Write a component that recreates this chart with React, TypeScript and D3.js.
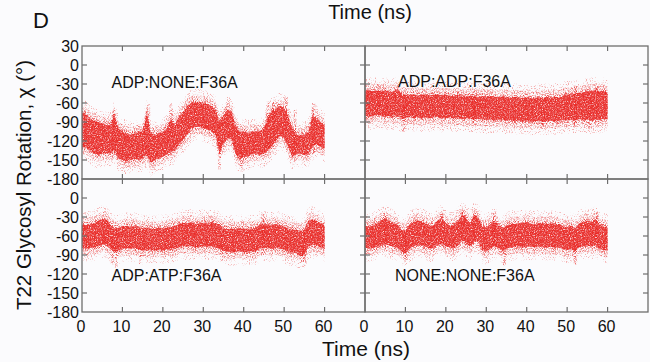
import React from "react";
import * as d3 from "d3";

// ---- data ----
const TIME = d3.range(0, 61); // ns, 1 ns sampling
const X_TICKS = [0, 10, 20, 30, 40, 50, 60];
const Y_TICKS = [-180, -150, -120, -90, -60, -30, 0, 30];

// ADP:NONE:F36A  (dense band low / high edge, degrees)
const ADP_NONE_LO = [-130,-130,-135,-140,-142,-140,-138,-140,-135,-148,-150,-152,-150,-148,-150,-148,-140,-155,-150,-148,-145,-140,-138,-135,-125,-118,-110,-100,-98,-98,-100,-102,-105,-110,-140,-125,-115,-118,-140,-150,-145,-145,-140,-140,-142,-140,-135,-128,-120,-112,-115,-130,-145,-140,-140,-142,-140,-130,-125,-130,-132];
const ADP_NONE_HI = [-75,-78,-85,-88,-90,-92,-95,-95,-78,-100,-105,-108,-110,-108,-105,-105,-75,-108,-110,-108,-105,-100,-85,-95,-80,-75,-65,-60,-58,-58,-60,-62,-65,-70,-88,-80,-70,-75,-95,-105,-105,-108,-105,-105,-105,-100,-82,-72,-70,-64,-68,-80,-100,-110,-110,-110,-105,-80,-85,-90,-95];
const ADP_NONE_SPIKES = [[7.8,-145,-72],[16.5,-150,-62],[22,-125,-60],[34,-165,-95],[39.5,-168,-110],[46,-130,-58],[47.5,-120,-55],[50.5,-105,-50],[52.7,-140,-70],[57.3,-140,-60]];

// ADP:ADP:F36A
const ADP_ADP_LO = [-80,-82,-80,-78,-80,-82,-80,-82,-80,-85,-84,-82,-84,-83,-85,-82,-84,-83,-82,-85,-84,-83,-85,-84,-86,-84,-85,-86,-85,-86,-87,-86,-88,-86,-87,-88,-87,-89,-88,-90,-88,-90,-89,-88,-90,-89,-88,-90,-88,-87,-88,-86,-88,-85,-88,-86,-88,-86,-87,-85,-86];
const ADP_ADP_HI = [-42,-40,-42,-40,-42,-40,-43,-42,-38,-45,-47,-48,-46,-48,-47,-46,-48,-47,-46,-48,-47,-48,-49,-47,-48,-50,-48,-49,-50,-49,-50,-49,-50,-51,-49,-50,-52,-50,-51,-52,-50,-52,-53,-50,-52,-50,-52,-50,-51,-48,-46,-47,-45,-44,-43,-42,-41,-40,-42,-41,-44];
const ADP_ADP_SPIKES = [[3.5,-85,-30],[9.5,-105,-60],[27,-95,-40],[44,-100,-60],[52,-95,-32],[55.5,-102,-35],[57.5,-95,-32]];

// ADP:ATP:F36A
const ADP_ATP_LO = [-78,-80,-79,-78,-76,-74,-73,-80,-85,-84,-80,-79,-80,-79,-82,-82,-83,-82,-83,-82,-83,-81,-82,-80,-78,-76,-77,-76,-78,-77,-76,-77,-76,-78,-80,-84,-85,-86,-85,-84,-86,-85,-84,-85,-80,-78,-79,-80,-78,-80,-82,-85,-86,-87,-92,-90,-76,-74,-75,-78,-80];
const ADP_ATP_HI = [-42,-43,-41,-40,-36,-33,-34,-42,-48,-47,-45,-44,-46,-44,-46,-48,-47,-48,-49,-47,-48,-47,-46,-44,-41,-39,-40,-38,-41,-40,-39,-40,-38,-40,-42,-48,-49,-48,-49,-47,-48,-49,-48,-47,-42,-40,-42,-43,-41,-43,-45,-48,-50,-50,-52,-50,-36,-34,-36,-40,-43];
const ADP_ATP_SPIKES = [[7.5,-105,-60],[8.5,-110,-60],[14.5,-105,-60],[34.5,-100,-55],[44.8,-90,-25],[54.5,-100,-60],[55,-102,-65]];

// NONE:NONE:F36A
const NONE_NONE_LO = [-78,-80,-79,-77,-74,-73,-75,-77,-78,-84,-88,-80,-76,-74,-75,-77,-80,-79,-74,-72,-76,-78,-79,-75,-68,-72,-77,-68,-70,-82,-84,-80,-76,-79,-84,-80,-78,-77,-76,-78,-76,-77,-78,-76,-77,-78,-77,-79,-78,-81,-82,-80,-84,-78,-76,-75,-77,-74,-80,-82,-83];
const NONE_NONE_HI = [-44,-45,-44,-40,-35,-32,-36,-40,-42,-50,-53,-42,-38,-35,-37,-40,-44,-43,-35,-32,-40,-44,-42,-36,-26,-32,-40,-27,-30,-45,-46,-42,-36,-42,-48,-44,-40,-41,-40,-40,-38,-40,-42,-39,-40,-41,-40,-42,-41,-45,-46,-44,-48,-40,-37,-36,-38,-33,-42,-45,-46];
const NONE_NONE_SPIKES = [[5,-80,-25],[10,-98,-55],[19,-75,-25],[24,-70,-22],[27,-70,-25],[32,-80,-22],[34.5,-108,-60],[52,-105,-60],[57.5,-80,-22]];

const LABELS = ["ADP:NONE:F36A", "ADP:ADP:F36A", "ADP:ATP:F36A", "NONE:NONE:F36A"];

// ---- layout / style ----
const W = 650, H = 362;
const RED = "#e8201f";
const AXIS = "#6e6e6e";
const FONT = "'Liberation Sans', Arial, Helvetica, sans-serif";
const PAD = 14;
const TICK = 5;

const xL = d3.scaleLinear().domain([0, 70]).range([82, 365]);
const xR = d3.scaleLinear().domain([0, 70]).range([365, 648]);
const yT = d3.scaleLinear().domain([-180, 30]).range([179, 46]);
const yB = d3.scaleLinear().domain([-180, 30]).range([312, 179]);

type Panel = {
  id: string; x: d3.ScaleLinear<number, number>; y: d3.ScaleLinear<number, number>;
  lo: number[]; hi: number[]; spikes: number[][]; label: string;
  lx: number; ly: number; left: boolean; bottom: boolean;
};

const PANELS: Panel[] = [
  { id: "p0", x: xL, y: yT, lo: ADP_NONE_LO, hi: ADP_NONE_HI, spikes: ADP_NONE_SPIKES, label: LABELS[0], lx: 111.5, ly: 87.5, left: true, bottom: false },
  { id: "p1", x: xR, y: yT, lo: ADP_ADP_LO, hi: ADP_ADP_HI, spikes: ADP_ADP_SPIKES, label: LABELS[1], lx: 398, ly: 87, left: false, bottom: false },
  { id: "p2", x: xL, y: yB, lo: ADP_ATP_LO, hi: ADP_ATP_HI, spikes: ADP_ATP_SPIKES, label: LABELS[2], lx: 111.5, ly: 281, left: true, bottom: true },
  { id: "p3", x: xR, y: yB, lo: NONE_NONE_LO, hi: NONE_NONE_HI, spikes: NONE_NONE_SPIKES, label: LABELS[3], lx: 395, ly: 281, left: false, bottom: true },
];

function PanelView({ p }: { p: Panel }) {
  const [x0, x1] = p.x.range();
  const [yb, yt] = p.y.range();
  const band = (pad: number) =>
    d3.area<number>()
      .x((_, i) => p.x(TIME[i]))
      .y0((_, i) => p.y(p.lo[i] - pad))
      .y1((_, i) => p.y(p.hi[i] + pad))
      .curve(d3.curveLinear)(p.lo) || "";
  return (
    <g>
      <clipPath id={`clip-${p.id}`}>
        <rect x={x0} y={yt} width={x1 - x0} height={yb - yt} />
      </clipPath>
      <g clipPath={`url(#clip-${p.id})`}>
        <path d={band(PAD * 1.5)} fill={RED} opacity={0.35} filter="url(#grainSparse)" />
        <path d={band(PAD * 0.8)} fill={RED} opacity={0.45} filter="url(#grainMid)" />
        {p.spikes.map((s, i) => (
          <rect key={i} x={p.x(s[0]) - 1.5} width={3} y={p.y(s[2])} height={p.y(s[1]) - p.y(s[2])}
            fill={RED} opacity={0.55} filter="url(#grainMid)" />
        ))}
        <path d={band(PAD * 0.3)} fill={RED} opacity={0.55} filter="url(#grainMid)" />
        <path d={band(0)} fill={RED} opacity={0.85} filter="url(#grainDense)" />
      </g>
      {/* frame */}
      <rect x={x0} y={yt} width={x1 - x0} height={yb - yt} fill="none" stroke={AXIS} strokeWidth={1.3} />
      {/* x ticks top & bottom */}
      {X_TICKS.filter(t => t > 0).map(t => (
        <g key={`xt${t}`} stroke={AXIS} strokeWidth={1.2}>
          <line x1={p.x(t)} x2={p.x(t)} y1={yt} y2={yt + TICK} />
          <line x1={p.x(t)} x2={p.x(t)} y1={yb} y2={yb - TICK} />
        </g>
      ))}
      {/* y ticks left & right */}
      {Y_TICKS.filter(v => v > -180 && v < 30).map(v => (
        <g key={`yt${v}`} stroke={AXIS} strokeWidth={1.2}>
          <line x1={x0} x2={x0 + TICK} y1={p.y(v)} y2={p.y(v)} />
          <line x1={x1} x2={x1 - TICK} y1={p.y(v)} y2={p.y(v)} />
        </g>
      ))}
      {p.left && Y_TICKS.filter(v => !(p.bottom && v === 30)).map(v => (
        <text key={`yl${v}`} x={79} y={p.y(v)} dy="0.36em" textAnchor="end" fontSize={16} fill="#111">{v}</text>
      ))}
      {p.bottom && X_TICKS.map(t => (
        <text key={`xl${t}`} x={p.x(t) - 1} y={332} textAnchor="middle" fontSize={16} fill="#111">{t}</text>
      ))}
      <text x={p.lx} y={p.ly} fontSize={16} fill="#111">{p.label}</text>
    </g>
  );
}

export default function App() {
  return (
    <svg width={W} height={H} viewBox={`0 0 ${W} ${H}`}
      style={{ position: "absolute", left: 0, top: 0, fontFamily: FONT }}>
      <defs>
        <filter id="grainSparse" filterUnits="userSpaceOnUse" x={0} y={0} width={W} height={H}>
          <feTurbulence type="fractalNoise" baseFrequency="0.95" numOctaves={2} seed={4} result="noise" />
          <feColorMatrix in="noise" type="matrix"
            values="0 0 0 0 0  0 0 0 0 0  0 0 0 0 0  6 0 0 0 -3.4" result="mask" />
          <feComposite in="SourceGraphic" in2="mask" operator="in" />
        </filter>
        <filter id="grainMid" filterUnits="userSpaceOnUse" x={0} y={0} width={W} height={H}>
          <feTurbulence type="fractalNoise" baseFrequency="0.9" numOctaves={2} seed={9} result="noise" />
          <feColorMatrix in="noise" type="matrix"
            values="0 0 0 0 0  0 0 0 0 0  0 0 0 0 0  4 0 0 0 -1.8" result="mask" />
          <feComposite in="SourceGraphic" in2="mask" operator="in" />
        </filter>
        <filter id="grainDense" filterUnits="userSpaceOnUse" x={0} y={0} width={W} height={H}>
          <feTurbulence type="fractalNoise" baseFrequency="0.85" numOctaves={2} seed={2} result="noise" />
          <feColorMatrix in="noise" type="matrix"
            values="0 0 0 0 0  0 0 0 0 0  0 0 0 0 0  2.6 0 0 0 -0.4" result="mask" />
          <feComposite in="SourceGraphic" in2="mask" operator="in" />
        </filter>
      </defs>
      <rect x={0} y={0} width={W} height={H} fill="#fbfbfd" />
      {PANELS.map(p => <PanelView key={p.id} p={p} />)}
      <text x={33} y={28} fontSize={22} fill="#111">D</text>
      <text x={370} y={19} textAnchor="middle" fontSize={20} fill="#111">Time (ns)</text>
      <text x={366} y={356} textAnchor="middle" fontSize={21} fill="#111">Time (ns)</text>
      <text transform="translate(31,185) rotate(-90)" textAnchor="middle" fontSize={20.5} fill="#111">
        T22 Glycosyl Rotation, χ (°)
      </text>
    </svg>
  );
}
